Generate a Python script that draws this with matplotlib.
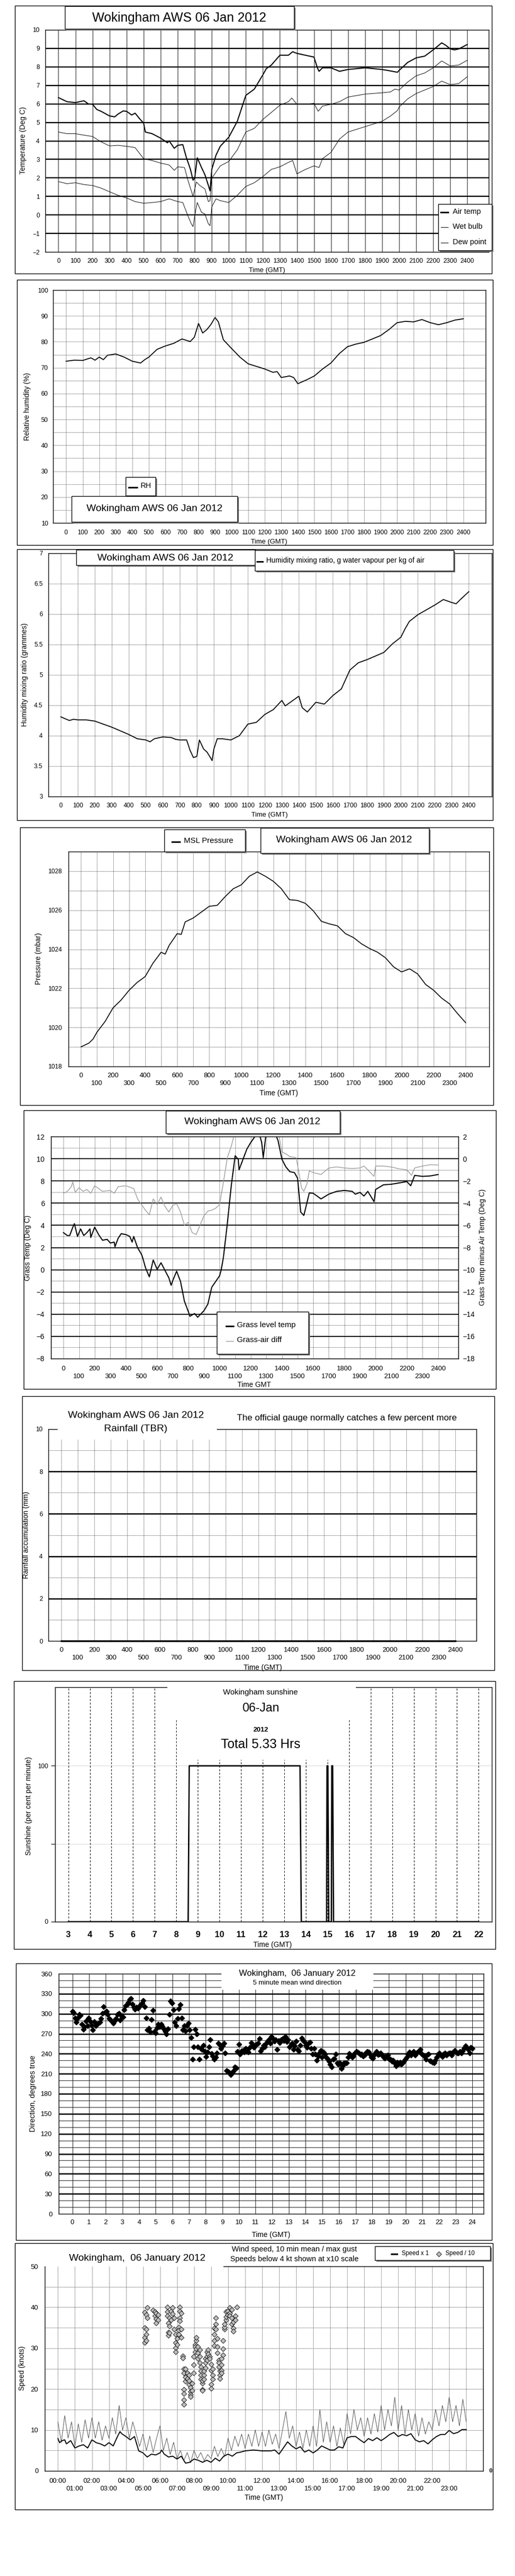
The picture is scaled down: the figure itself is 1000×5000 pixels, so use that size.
import numpy as np
import matplotlib
matplotlib.use('Agg')
import matplotlib.pyplot as plt
from matplotlib.patches import Rectangle
from matplotlib.lines import Line2D
from matplotlib.ticker import FuncFormatter

plt.rcParams['font.family'] = ['Liberation Sans', 'DejaVu Sans']

# ---------------- data ----------------
# temperatures (time as hhmm, deg C)
air_t = [0, 50, 100, 150, 175, 200, 225, 250, 300, 330, 350, 380, 400, 430, 450, 480, 500, 510, 550, 600,
         640, 650, 680, 700, 730, 750, 775, 790, 800, 815, 840, 860, 880, 890, 900, 925, 950, 1000, 1050, 1100,
         1150, 1200, 1220, 1250, 1300, 1350, 1375, 1400, 1450, 1500, 1520, 1530, 1550, 1600, 1650, 1700, 1800,
         1900, 1950, 1990, 2000, 2050, 2100, 2150, 2200, 2225, 2250, 2275, 2300, 2325, 2350, 2400]
air_v = [6.34, 6.12, 6.07, 6.17, 6.0, 5.98, 5.7, 5.6, 5.35, 5.3, 5.45, 5.62, 5.6, 5.4, 5.5, 5.16, 4.97, 4.48, 4.39, 4.15,
         3.9, 4.0, 3.6, 3.76, 3.8, 3.13, 2.46, 1.88, 1.98, 3.09, 2.56, 2.17, 1.6, 1.3, 2.46, 3.23, 3.71, 4.2, 5.06, 6.46,
         6.8, 7.57, 7.9, 8.1, 8.63, 8.63, 8.82, 8.73, 8.63, 8.53, 7.95, 7.76, 7.95, 7.95, 7.76, 7.86, 7.95,
         7.86, 7.78, 7.71, 7.81, 8.24, 8.49, 8.58, 8.92, 9.11, 9.3, 9.16, 8.97, 8.92, 8.97, 9.21]
wet_t = [0, 50, 100, 150, 200, 250, 300, 350, 400, 450, 500, 550, 600, 650, 680, 700, 740, 760, 780, 790,
         810, 830, 860, 880, 890, 900, 950, 1000, 1050, 1100, 1150, 1200, 1250, 1300, 1350, 1370, 1400, 1450,
         1500, 1525, 1550, 1600, 1650, 1700, 1800, 1900, 1950, 1975, 2000, 2050, 2100, 2150, 2200, 2250, 2300,
         2350, 2400]
wet_v = [4.48, 4.39, 4.39, 4.31, 4.24, 3.95, 3.73, 3.76, 3.71, 3.64, 3.04, 2.94, 2.8, 2.7, 2.41, 2.6, 2.56, 1.88, 1.3, 1.01,
         1.78, 1.59, 1.4, 0.72, 0.77, 1.98, 2.65, 2.89, 3.52, 4.48, 4.68, 5.16, 5.54, 5.93, 6.12, 6.32, 5.98, 5.98,
         6.03, 5.6, 5.88, 5.98, 6.12, 6.37, 6.53, 6.6, 6.65, 6.8, 6.75, 7.18, 7.52, 7.67, 7.95, 8.32, 8.05,
         8.1, 8.36]
dew_t = [0, 50, 100, 150, 200, 250, 300, 350, 400, 450, 500, 550, 600, 650, 700, 730, 760, 780, 790, 800,
         815, 840, 860, 880, 890, 900, 925, 950, 1000, 1050, 1100, 1150, 1200, 1250, 1300, 1350, 1375, 1400,
         1450, 1500, 1530, 1550, 1600, 1650, 1700, 1800, 1900, 1950, 1990, 2000, 2050, 2100, 2150, 2200, 2250,
         2300, 2350, 2400]
dew_v = [1.8, 1.69, 1.74, 1.64, 1.59, 1.45, 1.25, 1.06, 0.92, 0.72, 0.63, 0.67, 0.72, 0.87, 0.72, 0.67, -0.05, -0.48, -0.63, -0.05,
         0.67, 0.14, 0.05, -0.48, -0.58, 0.43, 0.87, 0.77, 0.67, 1.06, 1.54, 1.74, 2.07, 2.46, 2.6, 2.84, 2.94, 2.22,
         2.46, 2.65, 2.56, 3.04, 3.38, 4.1, 4.48, 4.77, 5.06, 5.35, 5.64, 5.83, 6.27, 6.56, 6.75, 6.94, 7.23,
         7.04, 7.1, 7.47]

# relative humidity (%)
rh_t = [0, 50, 100, 150, 175, 200, 225, 250, 300, 350, 400, 450, 475, 500, 550, 600, 650, 700, 750, 775,
        800, 825, 850, 875, 900, 920, 950, 1000, 1050, 1100, 1150, 1200, 1250, 1275, 1300, 1350, 1375, 1400,
        1450, 1500, 1550, 1600, 1650, 1700, 1750, 1800, 1850, 1900, 1950, 2000, 2050, 2100, 2150, 2200, 2250,
        2300, 2350, 2400]
rh_v = [72.5, 72.9, 72.8, 73.8, 72.9, 74.1, 73.1, 74.8, 75.3, 74.1, 72.5, 71.8, 73.1, 74.1, 77.1, 78.4, 79.4, 81.1, 80.1, 81.8,
        87.1, 83.4, 84.7, 86.7, 89.4, 87.7, 80.8, 77.4, 74.1, 71.5, 70.5, 69.5, 68.2, 68.5, 66.2, 66.8, 66.2, 63.8,
        65.2, 66.8, 69.5, 71.8, 75.4, 78.1, 79.1, 79.8, 81.1, 82.4, 84.7, 87.4, 87.9, 87.7, 88.6, 87.4, 86.6,
        87.4, 88.4, 88.9]

# humidity mixing ratio (g/kg)
mr_t = [0, 25, 50, 75, 100, 150, 200, 250, 300, 350, 400, 450, 500, 525, 550, 600, 650, 675, 700, 740,
        760, 780, 800, 815, 840, 860, 880, 890, 900, 920, 950, 1000, 1050, 1100, 1150, 1200, 1250, 1300, 1320,
        1350, 1400, 1420, 1450, 1500, 1550, 1600, 1650, 1700, 1750, 1800, 1850, 1900, 1950, 2000, 2025, 2050,
        2100, 2150, 2200, 2250, 2300, 2325, 2350, 2400]
mr_v = [4.31, 4.28, 4.25, 4.27, 4.26, 4.26, 4.24, 4.19, 4.14, 4.08, 4.02, 3.95, 3.93, 3.9, 3.95, 3.98, 3.97, 3.94, 3.93, 3.93,
        3.76, 3.64, 3.66, 3.93, 3.78, 3.73, 3.64, 3.59, 3.78, 3.95, 3.95, 3.93, 4.0, 4.19, 4.22, 4.35, 4.43, 4.58, 4.49,
        4.55, 4.65, 4.46, 4.39, 4.55, 4.52, 4.66, 4.77, 5.08, 5.2, 5.25, 5.31, 5.37, 5.51, 5.62, 5.76, 5.88,
        5.99, 6.07, 6.15, 6.24, 6.19, 6.17, 6.24, 6.37]

# MSL pressure (mbar)
p_t = [0, 50, 75, 100, 150, 200, 250, 300, 350, 400, 450, 500, 525, 550, 600, 625, 650, 700, 750, 800,
       850, 900, 950, 1000, 1050, 1100, 1150, 1200, 1250, 1300, 1350, 1400, 1450, 1500, 1550, 1600, 1650,
       1700, 1750, 1800, 1850, 1900, 1950, 2000, 2050, 2100, 2150, 2200, 2250, 2300, 2350, 2400]
p_v = [1019.0, 1019.2, 1019.4, 1019.76, 1020.3, 1021.0, 1021.4, 1021.9, 1022.3, 1022.6, 1023.3, 1023.85, 1023.75,
       1024.2, 1024.8, 1024.76, 1025.4, 1025.6, 1025.9, 1026.2, 1026.25, 1026.7, 1027.1, 1027.3, 1027.74, 1027.96,
       1027.74, 1027.48, 1027.1, 1026.54, 1026.5, 1026.35, 1025.96, 1025.43, 1025.3, 1025.2, 1024.8, 1024.6,
       1024.28, 1024.04, 1023.85, 1023.56, 1023.1, 1022.84, 1023.0, 1022.74, 1022.2, 1021.9, 1021.5, 1021.2,
       1020.7, 1020.24]

# grass temperature and grass minus air
g_t = [0, 25, 40, 60, 70, 90, 110, 130, 150, 170, 175, 200, 225, 250, 280, 300, 325, 330, 350, 370,
       400, 425, 440, 450, 475, 500, 510, 525, 550, 575, 600, 625, 650, 675, 690, 700, 725, 750, 775, 800,
       810, 840, 860, 900, 925, 950, 1000, 1010, 1025, 1050, 1075, 1100, 1120, 1125, 1150, 1175, 1200, 1225,
       1250, 1270, 1280, 1300, 1350, 1375, 1400, 1425, 1450, 1480, 1500, 1520, 1540, 1560, 1575, 1600, 1625,
       1650, 1700, 1750, 1800, 1850, 1870, 1900, 1925, 1950, 1990, 2000, 2050, 2100, 2150, 2200, 2225, 2250,
       2300, 2350, 2400]
g_v = [3.34, 3.08, 3.08, 3.84, 4.15, 3.0, 3.68, 3.08, 3.34, 3.68, 2.91, 3.84, 3.17, 2.66, 2.74, 2.41, 2.49, 2.07, 2.83, 3.25,
       3.17, 3.0, 2.49, 3.0, 1.98, 1.39, 0.97, 0.21, -0.64, 0.88, 0.04, 0.63, -0.05, -0.72, -1.4, -0.98, -0.13, -1.06, -2.84, -3.77,
       -4.19, -3.94, -4.28, -3.69, -3.1, -1.57, -0.55, -0.05, 1.14, 4.18, 7.57, 10.27, 9.94, 9.0, 9.94, 10.87, 11.46, 11.97,
       12.5, 11.46, 10.1, 12.5, 12.5, 11.63, 9.94, 9.26, 8.84, 8.75, 8.24, 5.2, 4.89, 6.04, 6.92, 6.89, 6.64,
       6.38, 6.81, 7.06, 7.14, 7.06, 6.81, 6.97, 6.64, 7.06, 6.13, 7.23, 7.65, 7.7, 7.82, 7.94, 7.57, 8.5,
       8.41, 8.45, 8.58]
d_t = [0, 25, 50, 60, 75, 100, 125, 150, 175, 200, 250, 300, 325, 350, 400, 450, 475, 500, 525, 550,
       575, 600, 625, 650, 675, 700, 725, 750, 775, 800, 825, 850, 875, 900, 925, 950, 975, 1000, 1025, 1050,
       1075, 1100, 1375, 1400, 1425, 1450, 1490, 1500, 1525, 1540, 1560, 1575, 1600, 1650, 1700, 1750, 1800,
       1850, 1900, 1925, 1950, 1990, 2000, 2050, 2100, 2150, 2200, 2230, 2250, 2300, 2350, 2400]
d_v = [-3.11, -2.94, -2.52, -2.09, -3.03, -2.6, -2.94, -2.77, -3.11, -2.43, -2.94, -2.86, -3.11, -2.52, -2.43, -2.69, -3.62, -4.13, -4.63, -5.06,
       -3.62, -4.13, -3.45, -4.29, -4.8, -4.21, -4.04, -4.8, -5.99, -5.73, -6.66, -6.83, -5.99, -5.14, -4.72, -4.63, -4.46, -4.13, -2.09, 0.1,
       1.12, 2.5, 2.5, 0.61, 0.44, 0.19, 0.1, -0.57, -2.6, -2.94, -2.26, -1.08, -1.25, -1.42, -0.83, -0.74, -0.83,
       -0.88, -0.83, -0.66, -1.0, -1.59, -0.66, -0.66, -0.74, -0.91, -1.0, -1.5, -0.83, -0.66, -0.54, -0.57]

# rainfall accumulation (mm)
rain_t = [0, 2400]
rain_v = [0, 0]

# sunshine (per cent per minute), time in hours
sun_t = [3, 8.55, 8.6, 13.73, 13.79, 14.96, 14.98, 15.02, 15.06, 15.18, 15.2, 15.24, 15.28, 22]
sun_v = [0, 0, 100, 100, 0, 0, 100, 100, 0, 0, 100, 100, 0, 0]

# 5 minute mean wind direction (degrees), one value every 5 minutes
wind_dir = [303.6, 301.5, 293.3, 287.5, 293.3, 299.2, 297.7, 284.6, 276.4, 280.2, 289, 281.6,
            293.9, 289, 283.1, 275.8, 288.1, 281.6, 284.6, 286, 287.5, 292.7, 300.6, 310.9,
            302.1, 303.6, 299.2, 292.7, 290.4, 289, 286, 289.8, 292.7, 299.2, 300.3, 290.4,
            296.3, 294.8, 305.6, 312.3, 313.8, 316.7, 321.1, 322.6, 314.4, 309.4, 306.5, 309.4,
            308.5, 310.9, 313.8, 316.1, 320.2, 310.9, 293.9, 275.8, 278.1, 272.9, 291, 305,
            273.4, 271.4, 278.7, 284.6, 280.2, 284.6, 281, 277.2, 273.4, 270, 277.2, 299.2,
            319.1, 316.1, 305.6, 287.5, 281.6, 292.7, 307.4, 313.8, 293.3, 275.8, 281.6, 274.3,
            281.6, 286, 275.8, 264.1, 231.9, 250.1, 276.4, 270, 250.1, 231.9, 248, 246.5,
            252.4, 243.6, 235.4, 242.2, 250.1, 261.2, 240.1, 236.3, 231.9, 234.9, 240.7,
            255.9, 253.6, 247.7, 251.5, 255.9, 240.7, 214.4, 212.9, 211.5, 208.5, 211.5, 213.8,
            220.2, 218.8, 243.6, 253.9, 239.2, 244.2, 245, 242.2, 247.7, 246.5, 242.2, 249.2,
            256.8, 251.5, 249.2, 253.6, 254.5, 255.9, 262.6, 244.2, 248, 252.4, 250.1, 255.9,
            257.7, 261.2, 255.9, 265.6, 262.6, 258.8, 261.2, 246.5, 259.7, 256.8, 261.2, 262.6, 259.7,
            265.6, 258.2, 261.2, 250.1, 252.4, 255.9, 246.5, 251.5, 258.8, 246.5, 244.2, 252.4,
            263.5, 260.6, 257.7, 252.4, 249.2, 255.9, 257.4, 247.7, 239.2, 247.7, 239.2, 230.5,
            236.3, 240.7, 245, 234.9, 242.2, 239.2, 234.9, 232.5, 229, 223.7, 220.2, 231.9,
            232.5, 239.2, 226.1, 223.7, 226.7, 217.9, 221.7, 226.1, 226.1, 226.1, 234.9, 240.1,
            237.8, 234.9, 236.3, 240.7, 243, 242.2, 240.7, 238.4, 239.2, 236.3, 237.8, 240.7, 243.6,
            242.2, 239.2, 234.9, 233.4, 237.8, 241.3, 243.6, 238.4, 239.2, 240.7, 237.8, 234.9, 233.4,
            236.3, 237.8, 232.5, 231.9, 229, 230.5, 226.1, 221.7, 227.5, 224.6, 227.5, 223.7, 226.1,
            229, 231.9, 234.9, 239.2, 242.2, 237.8, 240.7, 243.6, 237.8, 240.7, 242.2, 244.2, 246.5,
            239.2, 237.8, 236.3, 231.9, 238.4, 239.2, 229.6, 229, 227.5, 226.1, 230.5, 234.9,
            239.2, 240.7, 237.8, 235.4, 239.2, 240.7, 237.8, 239.2, 241.3, 240.7, 237.8, 242.2, 245,
            242.2, 240.7, 241.3, 243.6, 240.7, 244.2, 248, 251.5, 249.2, 246.5, 240.7, 249.2, 248]

# wind speed (knots), time in hours
ws_t = [0, 0.1, 0.25, 0.4, 0.5, 0.75, 1.0, 1.25, 1.5, 1.75, 2.0, 2.25, 2.5, 2.75, 3.0, 3.25, 3.5, 3.65, 3.75, 4.0,
        4.25, 4.5, 4.75, 5.0, 5.25, 5.5, 5.75, 6.0, 6.1, 6.25, 6.5, 6.75, 7.0, 7.25, 7.5, 7.75, 8.0, 8.25, 8.5, 8.75,
        9.0, 9.25, 9.5, 9.75, 10.0, 10.25, 10.5, 10.75, 11.0, 11.5, 12.0, 12.5, 12.75, 13.0, 13.25, 13.5, 13.75,
        14.0, 14.25, 14.5, 14.75, 15.0, 15.25, 15.5, 15.75, 16.0, 16.25, 16.5, 16.75, 17.0, 17.25, 17.5, 17.75,
        18.0, 18.25, 18.5, 18.75, 19.0, 19.25, 19.5, 19.75, 20.0, 20.25, 20.5, 20.75, 21.0, 21.25, 21.5, 21.75,
        22.0, 22.25, 22.5, 22.75, 23.0, 23.25, 23.5, 23.75, 24.0]
ws_mean = [7.9, 6.9, 7.4, 7.6, 6.6, 7.4, 5.6, 6.1, 6.4, 5.6, 7.6, 6.9, 6.6, 6.1, 6.9, 6.1, 8.4, 9.6, 9.1, 8.4,
           7.6, 8.4, 4.9, 4.4, 3.4, 4.1, 3.9, 4.4, 5.1, 4.1, 3.4, 3.6, 2.9, 3.6, 1.9, 2.1, 2.9, 2.6, 2.1, 2.6,
           2.1, 3.1, 2.4, 3.6, 4.1, 3.6, 4.4, 4.6, 4.9, 5.1, 4.9, 4.9, 5.1, 4.1, 5.6, 7.1, 6.1,
           5.4, 5.9, 4.6, 5.1, 4.4, 5.1, 6.1, 5.6, 5.1, 5.1, 5.9, 5.6, 8.1, 8.4, 8.4, 7.6,
           6.9, 7.9, 7.4, 8.1, 7.4, 8.1, 8.9, 9.4, 8.4, 8.9, 8.6, 9.1, 7.6, 7.1, 7.4, 6.6,
           7.6, 8.4, 8.9, 8.9, 9.9, 9.1, 9.4, 10.1, 10.1]
# max gust, one value every 12 minutes
ws_gust = [12, 7, 13.5, 8, 12, 6, 11.5, 7, 12.5, 8, 13, 8, 12, 7.5, 11, 8, 13, 9, 16, 10,
           13, 8, 12, 9, 6, 9, 5, 8.5, 4.5, 8, 11, 5, 8, 4, 7, 3, 5, 2.5, 4.5, 2,
           5, 3, 4.5, 2.5, 4, 3, 6, 3.5, 5.5, 3.5, 8, 5, 8.5, 6, 9, 5.5, 9, 6, 10, 6,
           9.5, 6, 10, 6.5, 9, 5.5, 10, 14.5, 8, 11, 6, 9.5, 5.5, 10, 6, 11, 6, 15, 7, 12,
           7, 11, 6, 10.5, 6.5, 14, 9, 15, 10, 13, 8.5, 13, 9, 14, 9.5, 16, 10, 15, 11, 18,
           10, 16, 9, 15, 10, 14, 8.5, 13, 9, 12, 10, 15, 11, 16, 12, 18, 12, 16, 11, 17.5, 12]
# light wind speeds shown at x10
low_t = [5.1, 5.1, 5.1, 5.1, 5.18, 5.18, 5.18, 5.18, 5.26, 5.26, 5.6, 5.7, 5.7, 5.78, 5.78, 5.78, 5.88, 5.88,
         6.44, 6.44, 6.44, 6.5, 6.5, 6.5, 6.57, 6.57, 6.57, 6.65, 6.65, 6.75, 6.75, 6.82, 6.82,
         6.92, 6.92, 6.92, 6.92, 7.02, 7.02, 7.09, 7.09, 7.09, 7.17, 7.17, 7.17, 7.17, 7.25, 7.25, 7.25,
         7.34, 7.34, 7.4, 7.4, 7.4, 7.4, 7.4, 7.4, 7.5, 7.5, 7.5, 7.6, 7.6, 7.6, 7.7, 7.7, 7.7,
         7.79, 7.79, 7.79, 7.79, 7.89, 7.89, 7.98, 7.98, 7.98, 8.06, 8.06, 8.06, 8.14, 8.14, 8.14,
         8.23, 8.23, 8.23, 8.33, 8.33, 8.33, 8.41, 8.41, 8.41, 8.41, 8.5, 8.5, 8.5, 8.5, 8.58, 8.58, 8.58,
         8.68, 8.68, 8.68, 8.76, 8.76, 8.76, 8.83, 8.83, 8.91, 8.91, 9.01, 9.01, 9.01, 9.01, 9.1, 9.1, 9.1,
         9.18, 9.18, 9.18, 9.18, 9.28, 9.28, 9.28, 9.37, 9.37, 9.37, 9.45, 9.45, 9.45, 9.53, 9.53, 9.53,
         9.62, 9.62, 9.62, 9.62, 9.7, 9.7, 9.7, 9.8, 9.8, 9.8, 9.9, 9.9, 9.9, 9.99, 9.99,
         10.11, 10.11, 10.11, 10.22, 10.22, 10.22, 10.32, 10.32, 10.32, 10.42, 10.42, 10.53]
low_v = [38.8, 32.6, 31.4, 35.0, 38.1, 33.4, 31.9, 34.6, 37.4, 39.9, 39.3, 38.9, 37.9, 37.1, 36.1, 38.6, 38.1, 36.9,
         40.1, 38.9, 37.9, 36.1, 33.9, 33.1, 35.4, 37.4, 33.8, 39.1, 36.9, 39.9, 38.4, 37.4, 34.6,
         33.4, 31.4, 30.1, 29.1, 32.4, 30.9, 35.1, 34.4, 33.4, 40.1, 39.1, 37.4, 36.6, 38.6, 34.6, 32.6,
         28.1, 27.6, 25.0, 23.9, 17.4, 16.2, 19.9, 18.9, 22.9, 21.9, 24.9, 23.9, 22.4, 22.6, 23.4, 21.1, 22.1,
         20.4, 19.4, 18.6, 18.1, 21.4, 19.6, 25.9, 27.9, 23.9, 30.9, 30.4, 29.1, 31.9, 32.6, 29.9,
         30.4, 28.9, 27.4, 29.6, 27.9, 26.4, 25.4, 24.4, 23.4, 22.4, 21.4, 19.9, 19.6, 22.1, 23.4, 22.4, 24.4,
         25.2, 26.4, 27.4, 27.9, 27.1, 29.1, 29.6, 28.6, 27.9, 27.4, 26.1, 24.6, 21.1, 20.1, 23.4, 22.4, 24.9,
         34.9, 33.4, 31.9, 30.6, 37.4, 35.9, 34.6, 32.4, 30.4, 28.9, 27.1, 26.4, 25.4, 24.4, 23.4, 22.6,
         27.4, 25.9, 24.6, 23.9, 31.9, 29.9, 28.4, 34.6, 35.1, 35.9, 36.9, 37.6, 38.9, 39.1, 38.1,
         39.9, 38.6, 37.9, 39.4, 37.4, 35.9, 34.9, 34.1, 36.4, 37.9, 36.9, 40.0]

hhmm = list(range(0, 2401, 100))
title = 'Wokingham AWS 06 Jan 2012'

# ---------------- figure helpers (pixel coordinates, y down) ----------------
W, H = 1000, 5000
fig = plt.figure(figsize=(W / 100, H / 100), dpi=100)
DOT = (0, (1, 1.5))


def fx(x):
    return x / W


def fy(y):
    return 1 - y / H


def rect(x0, y0, x1, y1, fc='white', ec='black', lw=1.0, z=5):
    fig.add_artist(Rectangle((fx(x0), fy(y1)), (x1 - x0) / W, (y1 - y0) / H, transform=fig.transFigure,
                             facecolor=fc, edgecolor=ec, linewidth=lw, zorder=z))


def box(x0, y0, x1, y1):
    rect(x0 + 3, y0 + 3, x1 + 3, y1 + 3, fc='#808080', ec='none', z=4)
    rect(x0, y0, x1, y1)


def frame(x0, y0, x1, y1):
    rect(x0, y0, x1, y1, fc='none', z=1)


def blank(x0, y0, x1, y1):
    rect(x0, y0, x1, y1, ec='none', z=3)


def text(x, y, s, size=10, ha='center', **kw):
    fig.text(fx(x), fy(y), s, fontsize=size, ha=ha, va='center', zorder=7, **kw)


def key_line(x0, x1, y, **kw):
    fig.add_artist(Line2D([fx(x0), fx(x1)], [fy(y), fy(y)], transform=fig.transFigure, zorder=7, **kw))


def panel(x0, y0, x1, y1):
    ax = fig.add_axes([fx(x0), fy(y1), (x1 - x0) / W, (y1 - y0) / H])
    for s in ax.spines.values():
        s.set_linewidth(1.0)
    ax.tick_params(length=0, labelsize=8.7)
    return ax


def hlines(ax, ys, **kw):
    for y in ys:
        ax.axhline(y, color='black', zorder=1, **kw)


def vlines(ax, xs, **kw):
    for x in xs:
        ax.axvline(x, color='black', zorder=1, **kw)


def two_rows(vals, fmt):
    return [fmt(v) if i % 2 == 0 else '\n' + fmt(v) for i, v in enumerate(vals)]


# ---------------- 1. temperatures ----------------
frame(29, 11, 955, 531)
ax = panel(88, 58, 949, 489)
ax.set_xlim(-77, 2526)
ax.set_ylim(-2, 10)
vlines(ax, hhmm, lw=0.6)
hlines(ax, range(-1, 10), lw=1.7)
ax.plot(air_t, air_v, color='black', lw=1.5, zorder=3)
ax.plot(wet_t, wet_v, color='black', lw=0.7, zorder=3)
ax.plot(dew_t, dew_v, color='black', lw=0.7, zorder=3)
ax.set_xticks(hhmm)
ax.set_yticks(range(-2, 11))
ax.tick_params(axis='x', pad=9)
ax.tick_params(axis='y', pad=8)
box(126, 12, 571, 56)
text(348, 35, title, size=18)
box(851, 396, 955, 486)
for yy, lab, lw in [(412, 'Air temp', 2.2), (441, 'Wet bulb', 0.7), (471, 'Dew point', 0.7)]:
    key_line(856, 870, yy, color='black', lw=lw)
    text(879, yy - 1, lab, size=10.5, ha='left')
text(45, 273, 'Temperature (Deg C)', size=10, rotation=90)
text(518, 525, 'Time (GMT)', size=9.5)

# ---------------- 2. relative humidity ----------------
frame(33, 543, 957, 1058)
ax = panel(103, 563, 943, 1015)
ax.set_xlim(-79, 2535)
ax.set_ylim(10, 100)
vlines(ax, hhmm, lw=0.6, ls=DOT)
hlines(ax, range(15, 100, 5), lw=0.6, ls=DOT)
ax.plot(rh_t, rh_v, color='black', lw=1.3, zorder=3)
ax.set_xticks(hhmm)
ax.set_yticks(range(10, 101, 10))
ax.tick_params(axis='x', pad=9)
ax.tick_params(axis='y', pad=7)
box(244, 926, 302, 962)
key_line(250, 266, 946, color='black', lw=2.2)
text(273, 943, 'RH', size=10.5, ha='left')
box(139, 963, 461, 1013)
text(300, 988, title, size=14)
text(53, 789, 'Relative humidity (%)', size=10, rotation=90)
text(522, 1052, 'Time (GMT)', size=9.5)

# ---------------- 3. mixing ratio ----------------
frame(33, 1066, 957, 1592)
ax = panel(94, 1074, 955, 1546)
ax.set_xlim(-73, 2535)
ax.set_ylim(3, 7)
vlines(ax, hhmm, lw=0.6, ls=DOT)
hlines(ax, np.arange(3.5, 7, 0.5), lw=0.6, ls=DOT)
ax.plot(mr_t, mr_v, color='black', lw=1.3, zorder=3)
ax.set_xticks(hhmm)
ax.set_yticks(np.arange(3, 7.01, 0.5))
ax.yaxis.set_major_formatter(FuncFormatter(lambda v, p: '%g' % v))
ax.tick_params(axis='x', pad=9)
ax.tick_params(axis='y', pad=8)
box(148, 1067, 496, 1097)
text(321, 1083, title, size=14)
box(495, 1068, 881, 1108)
key_line(499, 510, 1090, color='black', lw=2.2)
text(517, 1088, 'Humidity mixing ratio, g water vapour per kg of air', size=10, ha='left')
text(48, 1309, 'Humidity mixing ratio (grammes)', size=10, rotation=90)
text(523, 1582, 'Time (GMT)', size=9.5)

# ---------------- 4. pressure ----------------
frame(39, 1606, 958, 2145)
ax = panel(133, 1653, 950, 2070)
ax.set_xlim(-78, 2547)
ax.set_ylim(1018, 1029)
vlines(ax, hhmm, lw=0.6, ls=DOT)
hlines(ax, range(1019, 1029), lw=0.6, ls=DOT)
ax.plot(p_t, p_v, color='black', lw=1.2, zorder=3)
ax.set_xticks(hhmm)
ax.set_xticklabels(two_rows(hhmm, str), linespacing=1.3)
ax.set_yticks(range(1018, 1029, 2))
ax.tick_params(axis='x', pad=9, labelsize=9.5)
ax.tick_params(axis='y', pad=9)
box(319, 1610, 476, 1653)
key_line(334, 349, 1634, color='black', lw=2.2)
text(357, 1632, 'MSL Pressure', size=11, ha='left')
box(506, 1607, 833, 1656)
text(668, 1630, title, size=14)
text(75, 1861, 'Pressure (mbar)', size=10, rotation=90)
text(541, 2122, 'Time (GMT)', size=10)

# ---------------- 5. grass temperature ----------------
frame(46, 2155, 963, 2696)
ax = panel(99, 2206, 890, 2637)
ax.set_xlim(-80, 2530)
ax.set_ylim(-8, 12)
vlines(ax, hhmm, lw=0.6, ls=DOT)
hlines(ax, range(-7, 12, 2), lw=0.6, ls=DOT)
hlines(ax, range(-6, 12, 2), lw=1.3)
ax.plot(g_t, g_v, color='black', lw=1.5, zorder=3)
ax.set_xticks(hhmm)
ax.set_xticklabels(two_rows(hhmm, str), linespacing=1.3)
ax.set_yticks(range(-8, 13, 2))
ax.tick_params(axis='x', pad=10, labelsize=9.5)
ax.tick_params(axis='y', pad=9, labelsize=10)
ax2 = ax.twinx()
ax2.set_ylim(-18, 2)
ax2.set_yticks(range(-18, 3, 2))
ax2.tick_params(length=0, labelsize=10, pad=6)
ax2.plot(d_t, d_v, color='#9a9a9a', lw=1.0, zorder=2)
box(322, 2156, 660, 2200)
text(490, 2177, title, size=14)
box(421, 2546, 599, 2628)
key_line(439, 453, 2574, color='black', lw=2.2)
text(460, 2572, 'Grass level temp', size=11, ha='left')
key_line(439, 453, 2603, color='#9a9a9a', lw=1.0)
text(460, 2601, 'Grass-air diff', size=11, ha='left')
text(54, 2422, 'Grass Temp (Deg C)', size=10, rotation=90)
text(937, 2421, 'Grass Temp minus Air Temp (Deg C)', size=10, rotation=90)
text(494, 2688, 'Time GMT', size=10)

# ---------------- 6. rainfall ----------------
frame(43, 2710, 960, 3242)
ax = panel(94, 2774, 925, 3185)
ax.set_xlim(-80, 2528)
ax.set_ylim(0, 10)
vlines(ax, hhmm, lw=0.6, ls=DOT)
hlines(ax, range(1, 10, 2), lw=0.6, ls=DOT)
hlines(ax, range(2, 10, 2), lw=1.8)
ax.plot(rain_t, rain_v, color='black', lw=2.5, zorder=3, clip_on=False)
ax.set_xticks(hhmm)
ax.set_xticklabels(two_rows(hhmm, str), linespacing=1.3)
ax.set_yticks(range(0, 11, 2))
ax.tick_params(axis='x', pad=9, labelsize=9.5)
ax.tick_params(axis='y', pad=8)
blank(112, 2768, 421, 2794)
text(264, 2747, title, size=14)
text(264, 2773, 'Rainfall (TBR)', size=14)
text(674, 2752, 'The official gauge normally catches a few percent more', size=12.5)
text(51, 2979, 'Rainfall accumulation (mm)', size=10, rotation=90)
text(510, 3237, 'Time (GMT)', size=10)

# ---------------- 7. sunshine ----------------
frame(27, 3263, 962, 3783)
ax = panel(107, 3275, 955, 3730)
ax.set_xlim(2.39, 22.61)
ax.set_ylim(0, 150.4)
vlines(ax, range(3, 23), lw=0.7, ls=(0, (4, 3)))
hlines(ax, [50, 100], lw=0.6, ls=DOT, alpha=0.45)
ax.plot(sun_t, sun_v, color='black', lw=1.9, zorder=3)
ax.set_xticks(range(3, 23))
ax.set_yticks([0, 50, 100])
ax.set_yticklabels(['0', '', '100'])
ax.tick_params(axis='y', length=6, width=0.8, direction='out', pad=4)
ax.tick_params(axis='x', pad=13, labelsize=12)
for lab in ax.get_xticklabels():
    lab.set_fontweight('bold')
blank(325, 3270, 691, 3339)
blank(348, 3339, 670, 3416)
text(506, 3285, 'Wokingham sunshine', size=11)
text(506, 3316, '06-Jan', size=17)
text(506, 3358, '2012', size=9.5, weight='bold')
text(506, 3386, 'Total 5.33 Hrs', size=18)
text(56, 3505, 'Sunshine (per cent per minute)', size=10, rotation=90)
text(529, 3775, 'Time (GMT)', size=10)

# ---------------- 8. wind direction ----------------
frame(31, 3811, 955, 4348)
ax = panel(114, 3831, 939, 4297)
ax.set_xlim(-0.82, 24.68)
ax.set_ylim(0, 360)
vlines(ax, range(0, 25), lw=0.6)
hlines(ax, [d for d in range(10, 360, 10) if d % 30], lw=0.6)
hlines(ax, range(30, 360, 30), lw=1.8)
ax.plot(np.linspace(0, 24, len(wind_dir)), wind_dir, 'D', color='black', ms=5, zorder=3)
ax.set_xticks(range(0, 25))
ax.set_yticks(range(0, 361, 30))
ax.tick_params(axis='x', pad=8, labelsize=9.5)
ax.tick_params(axis='y', pad=9, labelsize=9.5)
blank(430, 3828, 725, 3862)
text(577, 3830, 'Wokingham,  06 January 2012', size=12)
text(577, 3849, '5 minute mean wind direction', size=9.5)
text(64, 4064, 'Direction, degrees true', size=10.5, rotation=90)
text(526, 4338, 'Time (GMT)', size=10)

# ---------------- 9. wind speed ----------------
frame(29, 4354, 957, 4871)
ax = panel(87, 4399, 938, 4796)
ax.set_xlim(-0.77, 24.99)
ax.set_ylim(0, 50)
ax.spines['top'].set_visible(False)
ax.plot([0.408, 1], [1, 1], transform=ax.transAxes, color='black', lw=1.0, clip_on=False)
vlines(ax, range(0, 25), lw=0.6, ls=DOT)
hlines(ax, range(5, 50, 5), lw=0.6, ls=DOT)
ax.plot(np.linspace(0, 24, len(ws_gust)), ws_gust, color='#505050', lw=0.7, zorder=2)
ax.plot(ws_t, ws_mean, color='black', lw=1.4, zorder=3)
ax.plot(low_t, low_v, 'D', ms=5.5, mfc='#bdbdbd', mec='black', mew=0.6, ls='none', zorder=4)
ax.set_xticks(range(0, 24))
ax.set_xticklabels(two_rows(range(0, 24), lambda h: '%02d:00' % h), linespacing=1.3)
ax.set_yticks(range(0, 51, 10))
ax.tick_params(axis='x', pad=10, labelsize=9.5)
ax.tick_params(axis='y', pad=9, labelsize=9.5)
text(950, 4796, '0', size=8, ha='left', weight='bold')
text(266, 4383, 'Wokingham,  06 January 2012', size=14)
text(572, 4366, 'Wind speed, 10 min mean / max gust', size=10.5)
text(572, 4385, 'Speeds below 4 kt shown at x10 scale', size=10.5)
box(728, 4360, 952, 4387)
key_line(760, 771, 4375, color='black', lw=2.2)
text(780, 4374, 'Speed x 1', size=8.5, ha='left')
fig.add_artist(Line2D([fx(852)], [fy(4375)], transform=fig.transFigure, marker='D', ms=5,
                      mfc='#bdbdbd', mec='black', mew=0.6, zorder=7))
text(865, 4374, 'Speed / 10', size=8.5, ha='left')
text(43, 4597, 'Speed (knots)', size=10, rotation=90)
text(512, 4848, 'Time (GMT)', size=10)

fig.savefig('out.png', dpi=100, facecolor='white')
